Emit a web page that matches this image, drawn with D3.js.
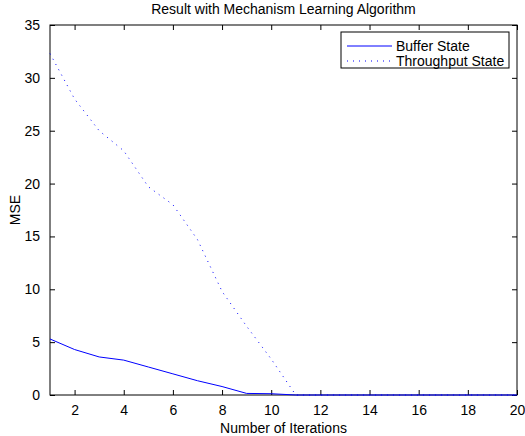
<!DOCTYPE html>
<html>
<head>
<meta charset="utf-8">
<script src="https://cdn.jsdelivr.net/npm/d3@7"></script>
<style>
  body { margin: 0; background: #fff; }
  svg { display: block; font-family: "Liberation Sans", Arial, sans-serif; }
</style>
</head>
<body>
<div id="chart"></div>
<script>
// data
var iterations = d3.range(1, 21);
var bufferState = [5.3, 4.3, 3.6, 3.3, 2.65, 2.0, 1.35, 0.8, 0.15, 0.12, 0, 0, 0, 0, 0, 0, 0, 0, 0, 0];
var throughputState = [32.3, 28.0, 25.0, 23.1, 19.7, 18.0, 14.7, 9.8, 6.5, 3.4, 0, 0, 0, 0, 0, 0, 0, 0, 0, 0];
var xTicks = [2, 4, 6, 8, 10, 12, 14, 16, 18, 20];
var yTicks = [0, 5, 10, 15, 20, 25, 30, 35];

var svgWidth = 525, svgHeight = 436;
var margin = { top: 25, right: 8, bottom: 41, left: 50 };
var plotWidth = svgWidth - margin.left - margin.right;
var plotHeight = svgHeight - margin.top - margin.bottom;

var svg = d3.select("#chart").append("svg")
  .attr("width", svgWidth)
  .attr("height", svgHeight);

var chartGroup = svg.append("g")
  .attr("transform", `translate(${margin.left}, ${margin.top})`);

var xScale = d3.scaleLinear().domain([1, 20]).range([0, plotWidth]);
var yScale = d3.scaleLinear().domain([0, 35]).range([plotHeight, 0]);

// axes, matlab style: ticks pointing in, box all round
function styleAxis(g) {
  g.select(".domain").remove();
  g.selectAll("line").attr("stroke", "#000");
  g.selectAll("text").attr("fill", "#000").style("font-size", "14px");
}

chartGroup.append("g")
  .attr("transform", `translate(0, ${plotHeight})`)
  .call(d3.axisBottom(xScale).tickValues(xTicks).tickSizeInner(-5).tickSizeOuter(0).tickPadding(10))
  .call(styleAxis);
chartGroup.append("g")
  .call(d3.axisTop(xScale).tickValues(xTicks).tickSizeInner(-5).tickSizeOuter(0).tickFormat(""))
  .call(styleAxis);
chartGroup.append("g")
  .call(d3.axisLeft(yScale).tickValues(yTicks).tickSizeInner(-5).tickSizeOuter(0).tickPadding(10))
  .call(styleAxis);
chartGroup.append("g")
  .attr("transform", `translate(${plotWidth}, 0)`)
  .call(d3.axisRight(yScale).tickValues(yTicks).tickSizeInner(-5).tickSizeOuter(0).tickFormat(""))
  .call(styleAxis);

chartGroup.append("rect")
  .attr("width", plotWidth)
  .attr("height", plotHeight)
  .attr("fill", "none")
  .attr("stroke", "#000")
  .attr("stroke-width", 1);

// lines
var line = d3.line()
  .x((d, i) => xScale(iterations[i]))
  .y(d => yScale(d));

chartGroup.append("path")
  .datum(bufferState)
  .attr("d", line)
  .attr("fill", "none")
  .attr("stroke", "#0000ff")
  .attr("stroke-width", 1);

chartGroup.append("path")
  .datum(throughputState)
  .attr("d", line)
  .attr("fill", "none")
  .attr("stroke", "#0000ff")
  .attr("stroke-width", 1)
  .attr("stroke-dasharray", "1,5");

// titles
svg.append("text")
  .attr("x", margin.left + plotWidth / 2)
  .attr("y", 14)
  .attr("text-anchor", "middle")
  .style("font-size", "14px")
  .text("Result with Mechanism Learning Algorithm");

svg.append("text")
  .attr("x", margin.left + plotWidth / 2)
  .attr("y", 433)
  .attr("text-anchor", "middle")
  .style("font-size", "14px")
  .text("Number of Iterations");

svg.append("text")
  .attr("transform", `translate(20, ${margin.top + plotHeight / 2}) rotate(-90)`)
  .attr("text-anchor", "middle")
  .style("font-size", "14px")
  .text("MSE");

// legend
var legend = svg.append("g");
legend.append("rect")
  .attr("x", 341).attr("y", 32)
  .attr("width", 168).attr("height", 36)
  .attr("fill", "#fff").attr("stroke", "#000");

var legendItems = [
  { label: "Buffer State", dash: null, y: 46 },
  { label: "Throughput State", dash: "1,5", y: 61 }
];
legendItems.forEach(function(item) {
  legend.append("line")
    .attr("x1", 347).attr("x2", 392)
    .attr("y1", item.y).attr("y2", item.y)
    .attr("stroke", "#0000ff")
    .attr("stroke-dasharray", item.dash);
  legend.append("text")
    .attr("x", 396).attr("y", item.y + 5)
    .style("font-size", "14px")
    .text(item.label);
});
</script>
</body>
</html>
